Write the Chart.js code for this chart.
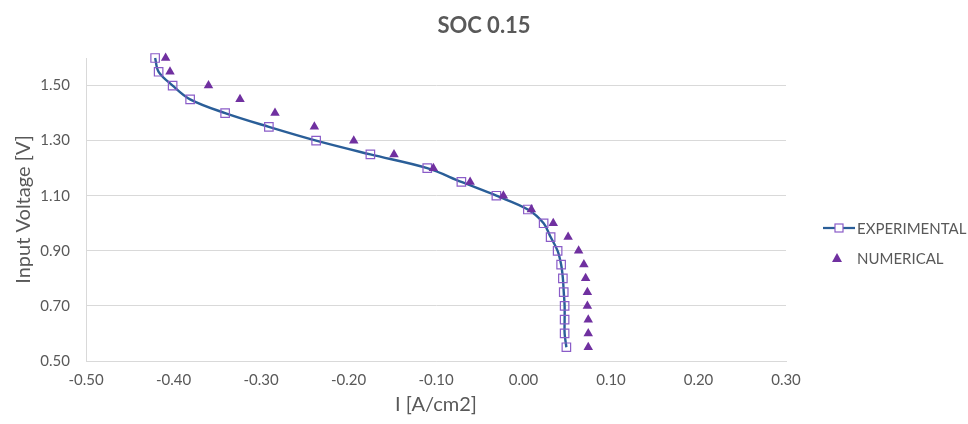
<!DOCTYPE html>
<html><head><meta charset="utf-8">
<script src="https://cdn.jsdelivr.net/npm/chart.js@4/dist/chart.umd.min.js"></script>
<style>html,body{margin:0;padding:0;background:#fff;}canvas{display:block;}</style>
</head><body>
<canvas id="c" width="968" height="424"></canvas>
<script>
const chartTitle = 'SOC 0.15';
const xAxisTitle = 'I [A/cm2]';
const yAxisTitle = 'Input Voltage [V]';
const seriesNames = ['EXPERIMENTAL', 'NUMERICAL'];
const voltage = [1.60,1.55,1.50,1.45,1.40,1.35,1.30,1.25,1.20,1.15,1.10,1.05,1.00,0.95,0.90,0.85,0.80,0.75,0.70,0.65,0.60,0.55];
const experimentalCurrent = [-0.421,-0.417,-0.401,-0.381,-0.341,-0.291,-0.237,-0.175,-0.110,-0.071,-0.031,0.005,0.023,0.031,0.039,0.043,0.045,0.046,0.047,0.047,0.047,0.049];
const numericalCurrent = [-0.409,-0.404,-0.360,-0.324,-0.284,-0.239,-0.194,-0.148,-0.103,-0.061,-0.023,0.009,0.034,0.051,0.063,0.069,0.071,0.073,0.073,0.074,0.074,0.074];
const xTicks = [-0.5,-0.4,-0.3,-0.2,-0.1,0,0.1,0.2,0.3];
const yTicks = [0.5,0.7,0.9,1.1,1.3,1.5];

const FONT = 'Lato, "Open Sans", sans-serif';
const TEXT = '#595959';
const LINE_COLOR = '#2A5E98';
const SQ_COLOR = '#8A5CC8';
const TRI_COLOR = '#7030A0';

const expData = voltage.map((v, i) => ({x: experimentalCurrent[i], y: v}));
const numData = voltage.map((v, i) => ({x: numericalCurrent[i], y: v}));

const fmt = v => (Math.abs(v) < 1e-9 ? 0 : v).toFixed(2);

const titleAndLegendPlugin = {
  id: 'titleAndLegend',
  afterDraw(chart) {
    const ctx = chart.ctx;
    ctx.save();
    // title
    ctx.fillStyle = TEXT; ctx.font = 'bold 22px ' + FONT; ctx.textAlign = 'center'; ctx.textBaseline = 'middle';
    ctx.fillText(chartTitle, 484, 26);
    // experimental
    let y = 228;
    ctx.strokeStyle = LINE_COLOR; ctx.lineWidth = 2.25;
    ctx.beginPath(); ctx.moveTo(823, y); ctx.lineTo(855, y); ctx.stroke();
    ctx.strokeStyle = SQ_COLOR; ctx.lineWidth = 1.2; ctx.fillStyle = '#fff';
    ctx.fillRect(835, y - 4, 8, 8);
    ctx.strokeRect(835, y - 4, 8, 8);
    ctx.fillStyle = TEXT; ctx.font = '15px ' + FONT; ctx.textBaseline = 'middle'; ctx.textAlign = 'left';
    ctx.fillText(seriesNames[0], 857, y + 1);
    // numerical
    y = 258;
    ctx.fillStyle = TRI_COLOR;
    ctx.beginPath(); ctx.moveTo(837, y - 5); ctx.lineTo(842, y + 4); ctx.lineTo(832, y + 4); ctx.closePath(); ctx.fill();
    ctx.fillStyle = TEXT;
    ctx.fillText(seriesNames[1], 857, y + 1);
    ctx.restore();
  }
};

new Chart(document.getElementById('c'), {
  type: 'scatter',
  data: {
    datasets: [
      {
        label: seriesNames[0], data: expData, showLine: true, tension: 0.35, clip: false,
        borderColor: LINE_COLOR, borderWidth: 2.4,
        pointStyle: 'rect', pointRadius: 6, pointBorderColor: SQ_COLOR, pointBackgroundColor: 'rgba(255,255,255,0)',
        pointBorderWidth: 1.2, order: 2
      },
      {
        label: seriesNames[1], data: numData, showLine: false, clip: false,
        pointStyle: 'triangle', pointRadius: 5.5, pointBorderColor: TRI_COLOR, pointBackgroundColor: TRI_COLOR,
        pointBorderWidth: 0, order: 1
      }
    ]
  },
  options: {
    responsive: false, animation: false, events: [],
    layout: {padding: {left: 0, right: 182, top: 58, bottom: 0}},
    plugins: {
      legend: {display: false}, tooltip: {enabled: false}, title: {display: false}
    },
    scales: {
      x: {
        type: 'linear', min: -0.5, max: 0.3,
        afterBuildTicks: s => { s.ticks = xTicks.map(v => ({value: v})); },
        afterFit: s => { s.height = 63; },
        grid: {display: false, drawTicks: false},
        border: {display: true, color: '#D9D9D9', width: 1},
        ticks: {color: TEXT, font: {family: FONT, size: 15}, padding: 10, callback: v => fmt(v), maxRotation: 0},
        title: {display: true, text: xAxisTitle, color: TEXT, font: {family: FONT, size: 20}, padding: {top: 0, bottom: 7}}
      },
      y: {
        type: 'linear', min: 0.5, max: 1.6,
        afterBuildTicks: s => { s.ticks = yTicks.map(v => ({value: v})); },
        afterFit: s => { s.width = 86; },
        grid: {color: '#D9D9D9', lineWidth: 1, drawTicks: false},
        border: {display: true, color: '#D9D9D9', width: 1},
        ticks: {color: TEXT, font: {family: FONT, size: 15}, padding: 16, callback: v => fmt(v)},
        title: {display: true, text: yAxisTitle, color: TEXT, font: {family: FONT, size: 20}, padding: {top: 12, bottom: 0}}
      }
    }
  },
  plugins: [titleAndLegendPlugin]
});
</script>
</body></html>
